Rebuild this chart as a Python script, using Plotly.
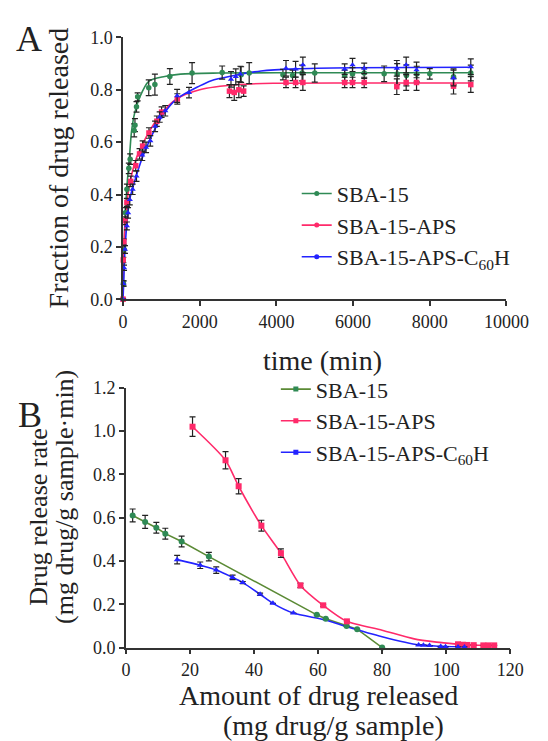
import plotly.graph_objects as go

# ---------------- Panel A: cumulative release vs time ----------------
sba_t = [0, 10, 30, 60, 100, 150, 185, 290, 310, 350, 380, 670, 830, 1220, 1800, 2585, 3080, 3290,
         4170, 4420, 4670, 5000, 5780, 5985, 6290, 6810, 7150, 7390, 7660, 8000, 8620, 9070]
sba_f = [0, 0.06, 0.19, 0.33, 0.42, 0.50, 0.535, 0.645, 0.665, 0.735, 0.773, 0.808, 0.82, 0.851, 0.864,
         0.866, 0.858, 0.864, 0.858, 0.855, 0.864, 0.864, 0.855, 0.86, 0.864, 0.861, 0.86, 0.855,
         0.86, 0.861, 0.85, 0.864]
sba_err = [0, 0.01, 0.015, 0.02, 0.02, 0.02, 0.02, 0.025, 0.025, 0.02, 0.015, 0.03, 0.04, 0.03, 0.04,
           0.025, 0.03, 0.04, 0.02, 0.02, 0.03, 0.035, 0.02, 0.025, 0.02, 0.03, 0.04, 0.04, 0.03,
           0.02, 0.03, 0.03]

aps_t = [0, 5, 20, 50, 100, 200, 330, 430, 510, 675, 880, 1005, 1415, 2775, 2900, 3020, 3145,
         4250, 4500, 4690, 5780, 5985, 6290, 7140, 7385, 7655, 8620, 9070]
aps_f = [0, 0.15, 0.22, 0.30, 0.37, 0.45, 0.51, 0.555, 0.585, 0.635, 0.68, 0.715, 0.765, 0.795, 0.79,
         0.80, 0.795, 0.828, 0.828, 0.828, 0.828, 0.828, 0.828, 0.812, 0.828, 0.828, 0.814, 0.82]
aps_err = [0, 0.01, 0.01, 0.015, 0.015, 0.02, 0.02, 0.02, 0.02, 0.02, 0.02, 0.02, 0.02, 0.025, 0.03,
           0.03, 0.02, 0.02, 0.02, 0.03, 0.02, 0.02, 0.02, 0.03, 0.03, 0.03, 0.03, 0.03]

c60_t = [0, 10, 25, 50, 100, 130, 175, 250, 350, 500, 600, 710, 835, 955, 1100, 1410, 1720, 2815,
         2940, 3060, 4250, 4500, 4690, 5780, 5985, 6290, 7140, 7385, 7655, 8620, 9070]
c60_f = [0, 0.06, 0.12, 0.19, 0.28, 0.33, 0.38, 0.42, 0.47, 0.55, 0.58, 0.605, 0.66, 0.696, 0.72,
         0.777, 0.789, 0.84, 0.85, 0.86, 0.882, 0.879, 0.895, 0.879, 0.895, 0.882, 0.882, 0.895,
         0.876, 0.845, 0.888]
c60_err = [0, 0.01, 0.01, 0.015, 0.015, 0.02, 0.02, 0.02, 0.02, 0.02, 0.02, 0.02, 0.02, 0.02, 0.02,
           0.025, 0.02, 0.03, 0.03, 0.03, 0.03, 0.03, 0.03, 0.02, 0.025, 0.02, 0.03, 0.03, 0.03,
           0.03, 0.03]

# fitted curves
sba_fit_t = [0, 20, 50, 100, 170, 220, 300, 430, 675, 1087, 1500, 2500, 4000, 6000, 9070]
sba_fit_f = [0, 0.15, 0.30, 0.43, 0.55, 0.64, 0.71, 0.77, 0.833, 0.851, 0.86, 0.864, 0.865, 0.865, 0.865]
aps_fit_t = [0, 15, 40, 100, 200, 350, 500, 700, 1000, 1400, 2000, 3000, 4000, 6000, 9070]
aps_fit_f = [0, 0.17, 0.26, 0.37, 0.46, 0.54, 0.59, 0.645, 0.71, 0.765, 0.80, 0.82, 0.825, 0.826, 0.826]
c60_fit_t = [0, 25, 50, 100, 170, 300, 500, 700, 1000, 1400, 2000, 2300, 2800, 3600, 4500, 6000, 9070]
c60_fit_f = [0, 0.11, 0.19, 0.29, 0.38, 0.45, 0.54, 0.61, 0.695, 0.765, 0.815, 0.835, 0.852, 0.872,
             0.88, 0.884, 0.886]

# ---------------- Panel B: release rate vs amount released ----------------
sba_amt = [2.1, 6.0, 9.5, 12.3, 17.4, 25.9, 59.6, 62.4, 68.9, 72.2, 80.0]
sba_rate = [0.61, 0.58, 0.553, 0.526, 0.49, 0.42, 0.151, 0.133, 0.099, 0.085, 0.0]
sba_rate_err = [0.03, 0.03, 0.025, 0.025, 0.025, 0.02, 0, 0, 0, 0, 0]

aps_amt = [20.8, 31.1, 35.2, 42.3, 48.4, 54.5, 61.6, 69.0, 103.7, 105.2, 106.6, 108.6, 111.6, 113.2, 115.0]
aps_rate = [1.02, 0.865, 0.745, 0.563, 0.436, 0.287, 0.195, 0.121, 0.015, 0.013, 0.012, 0.011, 0.01,
            0.01, 0.01]
aps_rate_err = [0.045, 0.04, 0.035, 0.025, 0.02, 0.01, 0.005, 0, 0, 0, 0, 0, 0, 0, 0]
aps_curve_amt = [80.0, 90.0, 97.0]
aps_curve_rate = [0.08, 0.04, 0.025]

c60_amt = [16.0, 23.2, 28.2, 33.3, 36.5, 41.9, 45.9, 52.3, 91.4, 92.9, 94.8, 98.3, 99.8, 103.7, 105.7]
c60_rate = [0.406, 0.38, 0.358, 0.324, 0.30, 0.246, 0.204, 0.159, 0.012, 0.011, 0.009, 0.005, 0.004,
            0.003, 0.003]
c60_rate_err = [0.02, 0.015, 0.015, 0.01, 0.005, 0.005, 0, 0, 0, 0, 0, 0, 0, 0, 0]
c60_curve_amt = [62.0, 69.0, 80.0]
c60_curve_rate = [0.128, 0.096, 0.05]

names = ["SBA-15", "SBA-15-APS", "SBA-15-APS-C<sub>60</sub>H"]

GREEN = "#2f8a55"
GREEN_B_LINE = "#5b8a35"
RED = "#ff2a6a"
BLUE = "#2323ff"
ERR = "#222222"
FONT = "Liberation Serif, Times New Roman, serif"

fig = go.Figure()

def err(arr):
    return dict(type="data", array=arr, visible=True, color=ERR, thickness=1.2, width=3)

# Panel A
seriesA = [
    (sba_t, sba_f, sba_err, sba_fit_t, sba_fit_f, GREEN, GREEN, "circle"),
    (aps_t, aps_f, aps_err, aps_fit_t, aps_fit_f, RED, RED, "square"),
    (c60_t, c60_f, c60_err, c60_fit_t, c60_fit_f, BLUE, BLUE, "triangle-up"),
]
for (t, f, e, ft, ff, lc, mc, sym) in seriesA:
    fig.add_trace(go.Scatter(x=ft, y=ff, mode="lines", line=dict(color=lc, width=1.6, shape="spline",
                             smoothing=0.8), showlegend=False, xaxis="x", yaxis="y", hoverinfo="skip"))
for (t, f, e, ft, ff, lc, mc, sym) in seriesA:
    fig.add_trace(go.Scatter(x=t, y=f, mode="markers", error_y=err(e),
                             marker=dict(color=mc, size=5.5, symbol=sym), showlegend=False,
                             cliponaxis=False, xaxis="x", yaxis="y"))
for (t, f, e, ft, ff, lc, mc, sym), nm in zip(seriesA, names):
    fig.add_trace(go.Scatter(x=[None], y=[None], mode="lines+markers", name=nm,
                             line=dict(color=lc, width=1.6), marker=dict(color=mc, size=5, symbol="circle"),
                             legend="legend", xaxis="x", yaxis="y"))

# Panel B
def merged(xa, ya, xb, yb):
    pts = sorted(zip(list(xa) + list(xb), list(ya) + list(yb)))
    return [p[0] for p in pts], [p[1] for p in pts]

aps_lx, aps_ly = merged(aps_amt, aps_rate, aps_curve_amt, aps_curve_rate)
c60_lx, c60_ly = merged(c60_amt, c60_rate, c60_curve_amt, c60_curve_rate)

seriesB = [
    (sba_amt, sba_rate, sba_rate_err, sba_amt, sba_rate, GREEN_B_LINE, GREEN, "circle", "linear"),
    (aps_amt, aps_rate, aps_rate_err, aps_lx, aps_ly, RED, RED, "square", "spline"),
    (c60_amt, c60_rate, c60_rate_err, c60_lx, c60_ly, BLUE, BLUE, "triangle-up", "spline"),
]
for (x, y, e, lx, ly, lc, mc, sym, shp) in seriesB:
    fig.add_trace(go.Scatter(x=lx, y=ly, mode="lines", line=dict(color=lc, width=1.6, shape=shp,
                             smoothing=0.7), showlegend=False, xaxis="x2", yaxis="y2", hoverinfo="skip"))
for (x, y, e, lx, ly, lc, mc, sym, shp) in seriesB:
    fig.add_trace(go.Scatter(x=x, y=y, mode="markers", error_y=err(e),
                             marker=dict(color=mc, size=6, symbol=sym), showlegend=False,
                             cliponaxis=False, xaxis="x2", yaxis="y2"))
for (x, y, e, lx, ly, lc, mc, sym, shp), nm in zip(seriesB, names):
    fig.add_trace(go.Scatter(x=[None], y=[None], mode="lines+markers", name=nm,
                             line=dict(color=lc, width=1.6), marker=dict(color=mc, size=5, symbol="square"),
                             legend="legend2", xaxis="x2", yaxis="y2"))

W, H = 548, 741
def px(x):
    return x / W
def py(y):
    return 1 - y / H

axis_common = dict(showline=True, linecolor="#333333", linewidth=1.5, ticks="outside", ticklen=5,
                   tickwidth=1.5, tickcolor="#333333", showgrid=False, zeroline=False,
                   tickfont=dict(family=FONT, size=18, color="#222222"))

fig.update_layout(
    width=W, height=H, margin=dict(l=0, r=0, t=0, b=0),
    paper_bgcolor="white", plot_bgcolor="white",
    font=dict(family=FONT, color="#222222"),
    xaxis=dict(domain=[px(116), px(520)], range=[0, 10000], tickvals=[0, 2000, 4000, 6000, 8000, 10000],
               tickformat="d", anchor="y", **axis_common),
    yaxis=dict(domain=[py(289), py(20)], range=[0, 1.0], dtick=0.2, tickformat=".1f", anchor="x",
               **axis_common),
    xaxis2=dict(domain=[px(119), px(524)], range=[0, 120], dtick=20, anchor="y2", **axis_common),
    yaxis2=dict(domain=[py(647), py(380)], range=[0, 1.2], dtick=0.2, tickformat=".1f", anchor="x2",
                **axis_common),
    legend=dict(x=px(299), y=py(159), xanchor="left", yanchor="top", bgcolor="rgba(0,0,0,0)",
                font=dict(family=FONT, size=22, color="#222222"), tracegroupgap=0),
    legend2=dict(x=px(277), y=py(360), xanchor="left", yanchor="top", bgcolor="rgba(0,0,0,0)",
                 font=dict(family=FONT, size=22, color="#222222"), tracegroupgap=0),
)

ann = [
    dict(text="A", x=px(17), y=py(22), size=36, angle=0),
    dict(text="B", x=px(18), y=py(408), size=36, angle=0),
    dict(text="Fraction of drug released", x=px(48), y=py(154), size=28, angle=-90),
    dict(text="time (min)", x=px(326), y=py(352), size=28, angle=0),
    dict(text="Drug release rate", x=px(27), y=py(513), size=26, angle=-90),
    dict(text="(mg drug/g sample\u00b7min)", x=px(55), y=py(492), size=26, angle=-90),
    dict(text="Amount of drug released", x=px(322), y=py(696), size=28, angle=0),
    dict(text="(mg drug/g sample)", x=px(338), y=py(727), size=28, angle=0),
]
for a in ann:
    fig.add_annotation(text=a["text"], x=a["x"], y=a["y"], xref="paper", yref="paper",
                       xanchor="center", yanchor="middle", showarrow=False, textangle=a["angle"],
                       font=dict(family=FONT, size=a["size"], color="#222222"))

fig.write_html("out.html")
